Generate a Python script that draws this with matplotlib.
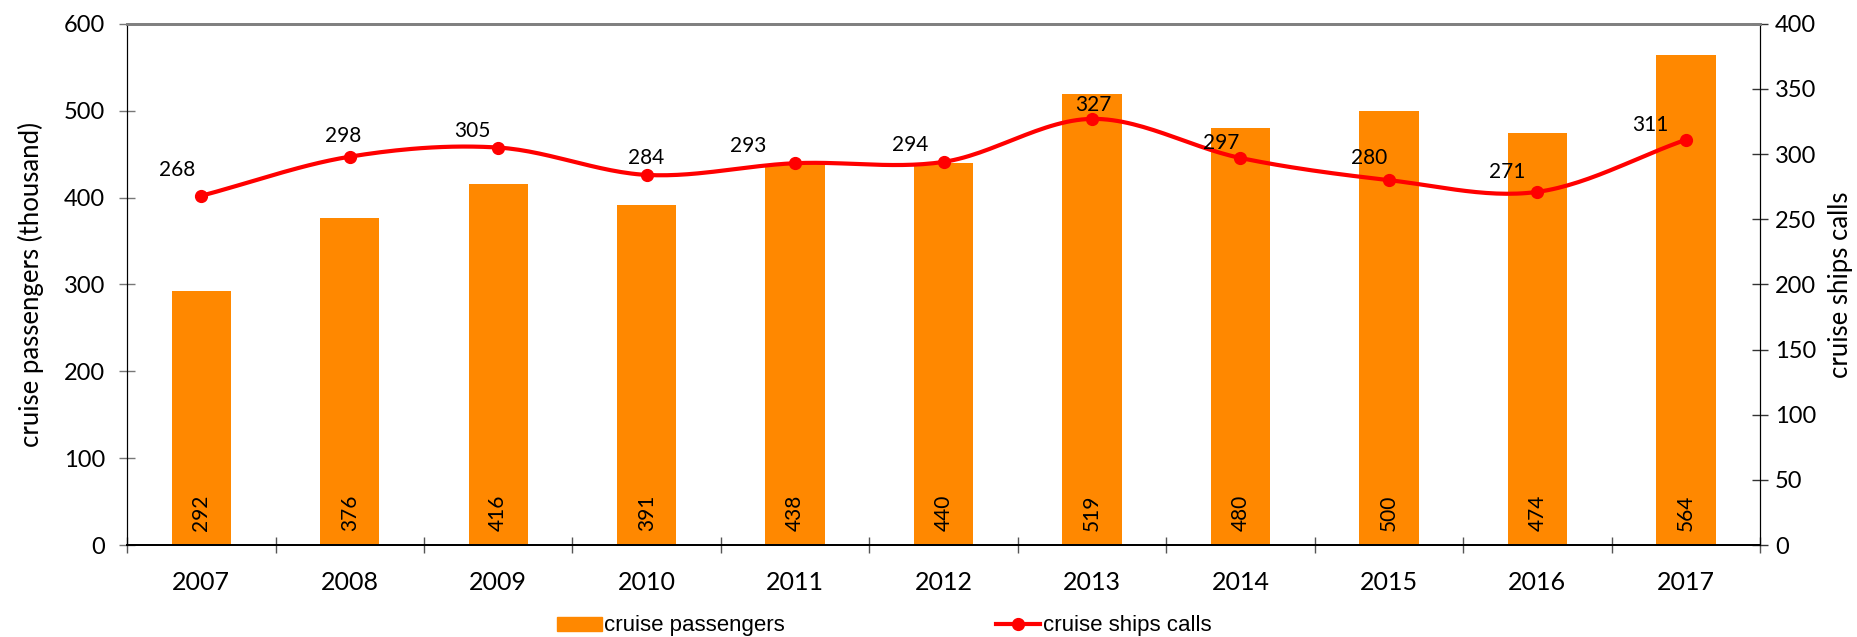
import numpy as np
import matplotlib
matplotlib.use("Agg")
import matplotlib.pyplot as plt
from matplotlib.lines import Line2D
from matplotlib.patches import Patch

# data
years = ["2007", "2008", "2009", "2010", "2011", "2012", "2013", "2014", "2015", "2016", "2017"]
passengers = [292, 376, 416, 391, 438, 440, 519, 480, 500, 474, 564]
ship_calls = [268, 298, 305, 284, 293, 294, 327, 297, 280, 271, 311]

# label offsets for the line values (pixels), hand placed like in the source
call_label_dx = [-24, -7, -26, -1, -47, -33, 1, -19, -20, -30, -36]
call_label_dy = [26, 21, 17, 17, 17, 17, 14, 15, 22, 20, 15]

ORANGE = "#FF8800"
RED = "#FF0000"
FONT = "Lato"
plt.rcParams["font.family"] = [FONT, "DejaVu Sans"]


def catmull_rom(x, y, n=30):
    """Smooth curve through the points (like Excel's smoothed line)."""
    x = np.asarray(x, float)
    y = np.asarray(y, float)
    px = np.concatenate([[2 * x[0] - x[1]], x, [2 * x[-1] - x[-2]]])
    py = np.concatenate([[2 * y[0] - y[1]], y, [2 * y[-1] - y[-2]]])
    xs, ys = [], []
    t = np.linspace(0, 1, n)
    for i in range(1, len(px) - 2):
        for arr, out in ((px, xs), (py, ys)):
            p0, p1, p2, p3 = arr[i - 1], arr[i], arr[i + 1], arr[i + 2]
            seg = 0.5 * ((2 * p1) + (-p0 + p2) * t
                         + (2 * p0 - 5 * p1 + 4 * p2 - p3) * t ** 2
                         + (-p0 + 3 * p1 - 3 * p2 + p3) * t ** 3)
            out.extend(seg[:-1] if i < len(px) - 3 else seg)
    return np.array(xs), np.array(ys)


fig = plt.figure(figsize=(18.58, 6.37), dpi=100)
ax = fig.add_axes([0.0684, 0.1444, 0.9473 - 0.0684, 0.9627 - 0.1444])
ax2 = ax.twinx()

x = np.arange(len(years))
ax.bar(x, passengers, width=0.40, color=ORANGE, zorder=2)
for xi, v in zip(x, passengers):
    ax.annotate(str(v), (xi, 0), xytext=(0, 14), textcoords="offset pixels",
                rotation=90, ha="center", va="bottom", fontsize=15, color="black")

ax.set_xlim(-0.5, len(years) - 0.5)
ax.set_ylim(0, 600)
ax.set_yticks(range(0, 601, 100))
ax.set_xticks(x)
ax.set_xticklabels(years)
ax.set_xticks(np.arange(-0.5, len(years), 1), minor=True)
ax.tick_params(axis="x", which="major", length=0, pad=19, labelsize=18)
ax.tick_params(axis="x", which="minor", direction="inout", length=11, width=1, color="#555555")
ax.tick_params(axis="y", direction="inout", length=11.5, width=1, color="#777777", pad=10, labelsize=17)
ax.set_ylabel("cruise passengers (thousand)", fontsize=18.5, labelpad=14)

sx, sy = catmull_rom(x, ship_calls)
ax2.plot(sx, sy, color=RED, lw=3, zorder=3, solid_capstyle="round")
ax2.plot(x, ship_calls, "o", color=RED, ms=8.5, zorder=4)
for xi, v, dx, dy in zip(x, ship_calls, call_label_dx, call_label_dy):
    ax2.annotate(str(v), (xi, v), xytext=(dx, dy), textcoords="offset pixels",
                 ha="center", va="center", fontsize=15, color="black")
ax2.set_ylim(0, 400)
ax2.set_yticks(range(0, 401, 50))
ax2.tick_params(axis="y", direction="inout", length=11.5, width=1, color="#333333", pad=5, labelsize=17)
ax2.set_ylabel("cruise ships calls", fontsize=18.5, labelpad=8)

for a in (ax, ax2):
    a.spines["top"].set_color("#808080")
    a.spines["top"].set_linewidth(2)
    a.spines["left"].set_color("black")
    a.spines["right"].set_color("black")
    a.spines["bottom"].set_color("black")
    a.spines["bottom"].set_linewidth(1.3)

handles = [Patch(color=ORANGE, label="cruise passengers"),
           Line2D([], [], color=RED, lw=3, marker="o", ms=8.5, label="cruise ships calls")]
fig.legend(handles=handles, loc="center", bbox_to_anchor=(0.476, 1 - 626 / 637), ncol=2,
           frameon=False, handlelength=2.0, handleheight=0.6, handletextpad=0.1,
           columnspacing=9.5, prop={"family": ["Liberation Sans Narrow", "Liberation Sans"], "size": 16})

fig.savefig("out.png", dpi=100)
